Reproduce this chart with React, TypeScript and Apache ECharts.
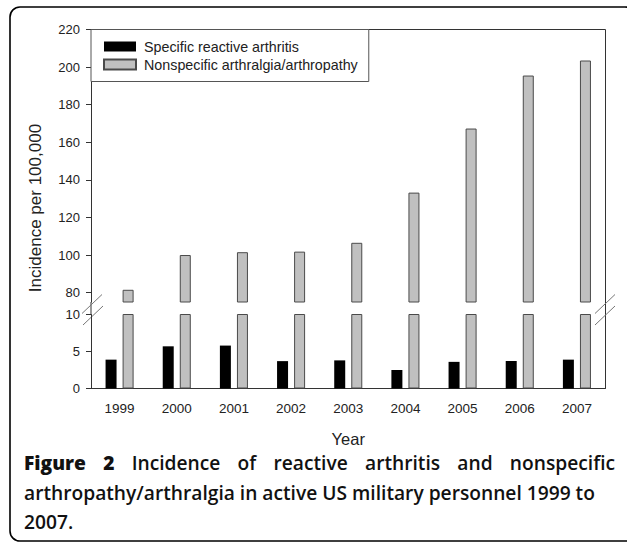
import React, { useEffect, useRef } from "react";
import * as echarts from "echarts";

const years = ["1999", "2000", "2001", "2002", "2003", "2004", "2005", "2006", "2007"];
const reactiveArthritis = [3.9, 5.7, 5.8, 3.7, 3.8, 2.5, 3.6, 3.7, 3.9];
const nonspecificArthralgia = [81.5, 100, 101.5, 101.8, 106.5, 133.2, 167.3, 195.5, 203.5];
const upperTicks = [80, 100, 120, 140, 160, 180, 200, 220];
const seriesNames = ["Specific reactive arthritis", "Nonspecific arthralgia/arthropathy"];
const captionLine1 = ["Figure", "2", "Incidence", "of", "reactive", "arthritis", "and", "nonspecific"];
const captionLine2 = "arthropathy/arthralgia in active US military personnel 1999 to";
const captionLine3 = "2007.";

const W = 627;
const H = 542;
const L = 91;
const R = 605.5;
const UT = 29.5;
const UB = 302;
const LT = 314.5;
const LB = 388.5;

const AX = "#333";
const LABEL_FONT = "'Liberation Sans', Arial, sans-serif";
const CAP_FONT = "'Open Sans', 'Noto Sans', sans-serif";

function measure(text: string, font: string): number {
  const ctx = document.createElement("canvas").getContext("2d")!;
  ctx.font = font;
  return ctx.measureText(text).width;
}

export default function App() {
  const ref = useRef<HTMLDivElement>(null);
  useEffect(() => {
    if (!ref.current) return;
    const chart = echarts.init(ref.current, null, { renderer: "svg" });

    const capSize = 19.2;
    const boldFont = `800 ${capSize}px ${CAP_FONT}`;
    const regFont = `600 ${capSize}px ${CAP_FONT}`;
    const fonts = captionLine1.map((_, i) => (i < 2 ? boldFont : regFont));
    const widths = captionLine1.map((w, i) => measure(w, fonts[i]));
    const total = widths.reduce((a, b) => a + b, 0);
    const x0 = 24;
    const x1 = 615;
    const gap = (x1 - x0 - total) / (captionLine1.length - 1);
    let cx = x0;
    const line1Texts: any[] = captionLine1.map((w, i) => {
      const el = {
        type: "text",
        x: cx,
        y: 462,
        style: {
          text: w,
          font: fonts[i],
          fill: "#111",
          align: "left",
          verticalAlign: "middle",
        },
      };
      cx += widths[i] + gap;
      return el;
    });

    const barCommon = { barWidth: 11, barGap: "55%", clip: true };
    const blackStyle = { color: "#000" };
    const grayStyle = { color: "#c0c0c0", borderColor: "#4a4a4a", borderWidth: 1 };
    const tickFont = { fontSize: 13, fontFamily: LABEL_FONT, color: "#222" };

    const option: any = {
      animation: false,
      backgroundColor: "#fff",
      grid: [
        { left: L, top: UT, width: R - L, height: UB - UT },
        { left: L, top: LT, width: R - L, height: LB - LT },
      ],
      legend: {
        data: seriesNames,
        orient: "vertical",
        left: L,
        top: UT,
        itemWidth: 32,
        itemHeight: 10,
        itemGap: 4,
        padding: [10, 11, 10, 12],
        borderColor: "#555",
        borderWidth: 1,
        backgroundColor: "#fff",
        icon: "rect",
        textStyle: { fontSize: 14.3, fontFamily: LABEL_FONT, color: "#222", lineHeight: 14, padding: [0, 0, 0, 3] },
      },
      xAxis: [
        {
          gridIndex: 0,
          type: "category",
          data: years,
          show: false,
        },
        {
          gridIndex: 1,
          type: "category",
          data: years,
          axisLine: { lineStyle: { color: AX, width: 1 } },
          axisTick: { alignWithLabel: true, length: 5, lineStyle: { color: AX } },
          axisLabel: { margin: 13, ...tickFont, fontSize: 13.5 },
          name: "Year",
          nameLocation: "middle",
          nameGap: 42,
          nameTextStyle: { fontSize: 16.5, fontFamily: LABEL_FONT, color: "#222" },
        },
      ],
      yAxis: [
        {
          gridIndex: 0,
          type: "value",
          min: 75,
          max: 220,
          axisLine: { show: true, lineStyle: { color: AX, width: 1 } },
          axisTick: { show: true, length: 5, customValues: upperTicks, lineStyle: { color: AX } },
          axisLabel: { margin: 11, ...tickFont, customValues: upperTicks },
          splitLine: { show: false },
        },
        {
          gridIndex: 1,
          type: "value",
          min: 0,
          max: 10,
          interval: 5,
          axisLine: { show: true, lineStyle: { color: AX, width: 1 } },
          axisTick: { show: true, length: 5, lineStyle: { color: AX } },
          axisLabel: { margin: 11, ...tickFont },
          splitLine: { show: false },
        },
      ],
      series: [
        { name: seriesNames[0], type: "bar", xAxisIndex: 0, yAxisIndex: 0, data: reactiveArthritis, itemStyle: blackStyle, ...barCommon },
        { name: seriesNames[1], type: "bar", xAxisIndex: 0, yAxisIndex: 0, data: nonspecificArthralgia, itemStyle: grayStyle, ...barCommon },
        { name: seriesNames[0], type: "bar", xAxisIndex: 1, yAxisIndex: 1, data: reactiveArthritis, itemStyle: blackStyle, ...barCommon },
        { name: seriesNames[1], type: "bar", xAxisIndex: 1, yAxisIndex: 1, data: nonspecificArthralgia, itemStyle: grayStyle, ...barCommon },
      ],
      graphic: [
        {
          type: "rect",
          shape: { x: 10, y: 7, width: 625, height: 534, r: 10 },
          style: { fill: "none", stroke: "#000", lineWidth: 1.6 },
          silent: true,
        },
        {
          type: "polyline",
          shape: { points: [[L, UT], [R, UT], [R, LB]] },
          style: { stroke: AX, lineWidth: 1, fill: "none" },
          silent: true,
        },
        {
          type: "line",
          shape: { x1: L, y1: UB, x2: L, y2: LT },
          style: { stroke: AX, lineWidth: 1 },
        },
        { type: "line", shape: { x1: 82, y1: 313.5, x2: 102, y2: 294.5 }, style: { stroke: "#777", lineWidth: 1 } },
        { type: "line", shape: { x1: 83, y1: 325, x2: 103, y2: 306 }, style: { stroke: "#777", lineWidth: 1 } },
        { type: "line", shape: { x1: 595, y1: 313.5, x2: 615, y2: 294.5 }, style: { stroke: "#777", lineWidth: 1 } },
        { type: "line", shape: { x1: 595, y1: 325, x2: 615, y2: 306 }, style: { stroke: "#777", lineWidth: 1 } },
        {
          type: "text",
          x: 35,
          y: 208,
          rotation: Math.PI / 2,
          style: {
            text: "Incidence per 100,000",
            font: `17px ${LABEL_FONT}`,
            fill: "#222",
            align: "center",
            verticalAlign: "middle",
          },
        },
        ...line1Texts,
        {
          type: "text",
          x: x0,
          y: 492,
          style: { text: captionLine2, font: regFont, fill: "#111", align: "left", verticalAlign: "middle" },
        },
        {
          type: "text",
          x: x0,
          y: 521,
          style: { text: captionLine3, font: regFont, fill: "#111", align: "left", verticalAlign: "middle" },
        },
      ],
    };
    chart.setOption(option);
    return () => chart.dispose();
  }, []);
  return (
    <div
      ref={ref}
      style={{ position: "fixed", left: 0, top: 0, width: W, height: H, background: "#fff" }}
    />
  );
}
